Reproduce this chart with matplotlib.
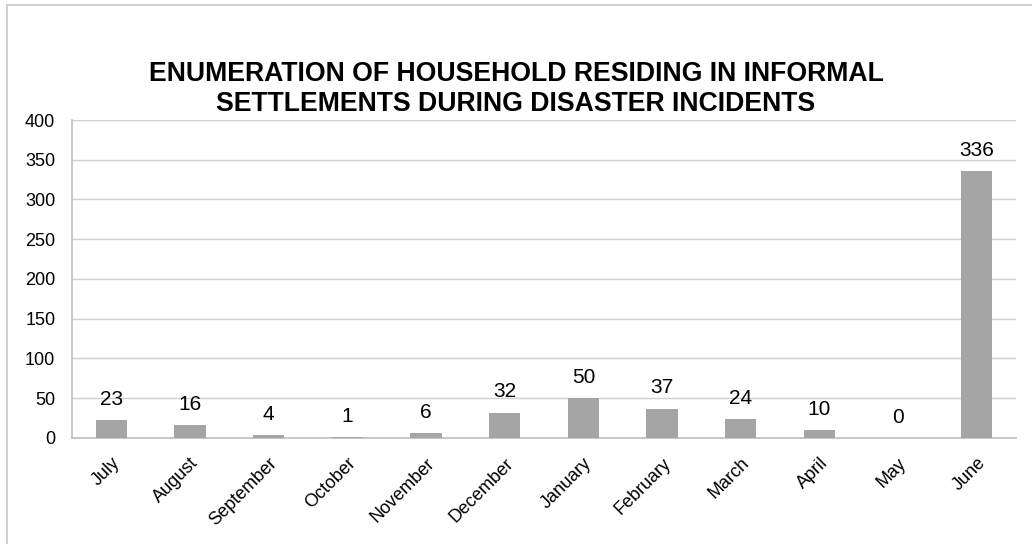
import matplotlib.pyplot as plt
from matplotlib.lines import Line2D

plt.rcParams['font.family'] = ['Liberation Sans', 'DejaVu Sans']

months = ['July', 'August', 'September', 'October', 'November', 'December',
          'January', 'February', 'March', 'April', 'May', 'June']
households = [23, 16, 4, 1, 6, 32, 50, 37, 24, 10, 0, 336]
y_ticks = [0, 50, 100, 150, 200, 250, 300, 350, 400]

fig = plt.figure(figsize=(10.32, 5.44), dpi=100)
ax = fig.add_axes([0.0698, 0.1949, 0.9147, 0.5845])

x = range(len(months))
ax.bar(x, households, width=0.4, color='#a5a5a5', zorder=3)
for xi, v in zip(x, households):
    ax.annotate(str(v), (xi, v), xytext=(0, 8), textcoords='offset points',
                ha='center', va='bottom', fontsize=15)

ax.set_xlim(-0.5, len(months) - 0.5)
ax.set_ylim(0, 400)
ax.set_yticks(y_ticks)
ax.yaxis.grid(True, color='#d0d0d0', linewidth=1, zorder=0)
ax.set_xticks(list(x))
ax.set_xticklabels(months, rotation=45, ha='right', rotation_mode='anchor', fontsize=13)
ax.tick_params(axis='y', labelsize=13, length=0, pad=12)
ax.tick_params(axis='x', length=0, pad=12)
for s in ['top', 'right']:
    ax.spines[s].set_visible(False)
for s in ['left', 'bottom']:
    ax.spines[s].set_color('#bfbfbf')
    ax.spines[s].set_linewidth(1.2)

fig.suptitle('ENUMERATION OF HOUSEHOLD RESIDING IN INFORMAL\nSETTLEMENTS DURING DISASTER INCIDENTS',
             x=0.5, y=0.888, fontsize=19.2, fontweight='bold', linespacing=1.2)

# outer chart border
fig.add_artist(Line2D([7 / 1032, 7 / 1032], [0, 1 - 5 / 544], transform=fig.transFigure,
                      color='#c8c8c8', linewidth=1.2))
fig.add_artist(Line2D([7 / 1032, 1], [1 - 5 / 544, 1 - 5 / 544], transform=fig.transFigure,
                      color='#c8c8c8', linewidth=1.2))

fig.savefig('out.png', dpi=100)
